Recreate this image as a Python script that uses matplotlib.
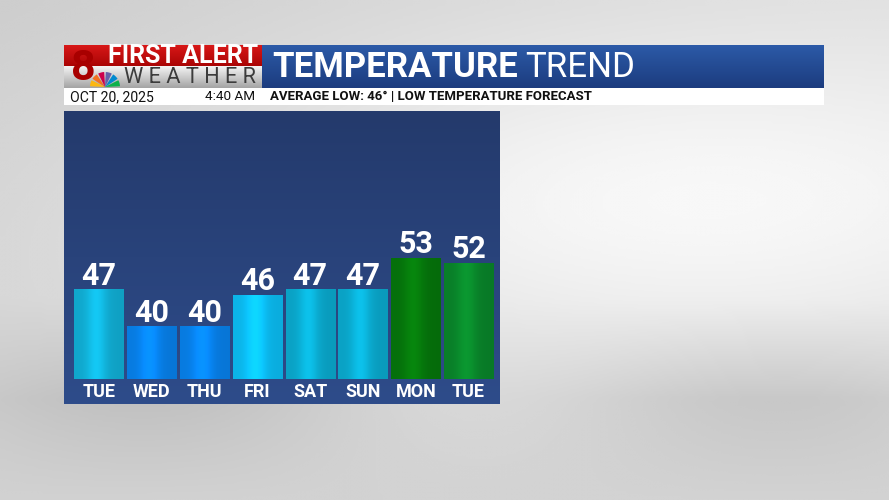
import numpy as np
import matplotlib.pyplot as plt
from matplotlib.patches import Rectangle, Wedge
from matplotlib.colors import to_rgb, LinearSegmentedColormap

# data
days = ['TUE', 'WED', 'THU', 'FRI', 'SAT', 'SUN', 'MON', 'TUE']
lows = [47, 40, 40, 46, 47, 47, 53, 52]
bar_colors = ['#12b6de', '#0886f4', '#0886f4', '#0cc4fc', '#0bb0d6', '#0bb0d6', '#067a0c', '#0a8a2c']
title_bold = 'TEMPERATURE'
title_thin = 'TREND'
date_txt = 'OCT 20, 2025'
time_txt = '4:40 AM'
sub_txt = 'AVERAGE LOW: 46° | LOW TEMPERATURE FORECAST'

W, H = 889, 500
SANS = ['Roboto', 'DejaVu Sans']
plt.rcParams['font.family'] = SANS

fig = plt.figure(figsize=(W / 100, H / 100), dpi=100)
renderer = fig.canvas.get_renderer()

# background: grey sky
bg = fig.add_axes([0, 0, 1, 1])
yy, xx = np.mgrid[0:1:200j, 0:1:356j]
sky = 0.86 + 0.12 * np.exp(-((xx - 0.75) ** 2 / 0.3 + (yy - 0.4) ** 2 / 0.12)) - 0.06 * (1 - xx) * (1 - yy)
sky -= 0.09 * np.clip(1 - np.abs(yy - 0.80) * 5, 0, 1) * (0.6 + 0.4 * np.sin(xx * 9))
sky -= 0.04 * yy ** 4
bg.imshow(np.clip(sky, 0, 1), cmap='gray', vmin=0, vmax=1, extent=[0, W, H, 0],
          origin='upper', aspect='auto', interpolation='bicubic')


def grad_rect(ax, x0, y0, w, h, c_top, c_bot):
    c1 = np.array(to_rgb(c_top))
    c2 = np.array(to_rgb(c_bot))
    t = np.linspace(0, 1, 50)[:, None]
    img = (c1 * (1 - t) + c2 * t)[:, None, :]
    ax.imshow(img, extent=[x0, x0 + w, y0 + h, y0], aspect='auto', zorder=2)


def fit_text(t, width):
    # scale the font so the text spans the given pixel width
    w = t.get_window_extent(renderer).width
    t.set_fontsize(t.get_fontsize() * width / w)


# header boxes
grad_rect(bg, 64, 45, 198, 21, '#d81818', '#aa0404')
grad_rect(bg, 64, 66, 198, 22, '#f4f4f4', '#a4a4a4')
grad_rect(bg, 262, 45, 562, 43, '#2c5aa8', '#1c3c7e')
bg.add_patch(Rectangle((64, 88), 760, 17, facecolor='white', zorder=2))
bg.set_xlim(0, W)
bg.set_ylim(H, 0)
bg.axis('off')

# logo: "8" and peacock
bg.text(83, 88.5, '8', fontsize=31, fontweight='bold', color='#a80000', ha='center',
        va='bottom', zorder=3)
peacock = ['#fcb711', '#f37021', '#cc004c', '#6460aa', '#0089d0', '#0db14b']
for k, c in enumerate(peacock):
    bg.add_patch(Wedge((105, 87), 15, 180 + k * 30 + 3, 180 + (k + 1) * 30 - 3,
                       facecolor=c, zorder=4))
fa = bg.text(108, 56, 'FIRST ALERT', fontsize=17, fontweight='bold', color='white',
             ha='left', va='center', zorder=3)
fit_text(fa, 150)
wt = bg.text(124, 77.5, 'W E A T H E R', fontsize=13.5, color='#3c3c3c', ha='left',
             va='center', zorder=3)
fit_text(wt, 132)

t1 = bg.text(272, 67.5, title_bold, fontsize=28, fontweight='bold', color='white',
             ha='left', va='center', zorder=3)
fit_text(t1, 245)
t2 = bg.text(525, 67.5, title_thin, fontsize=28, color='white',
             ha='left', va='center', zorder=3)
fit_text(t2, 110)

d1 = bg.text(70, 97, date_txt, fontsize=9.5, color='#111111', ha='left', va='center', zorder=3)
fit_text(d1, 84)
d2 = bg.text(255, 97, time_txt, fontsize=9.5, color='#111111', ha='right', va='center', zorder=3)
fit_text(d2, 50)
s1 = bg.text(270, 97, sub_txt, fontsize=9.5, fontweight='bold', color='#111111',
             ha='left', va='center', zorder=3)
fit_text(s1, 322)

# chart panel
ax = fig.add_axes([64 / W, 1 - 404 / H, 435 / W, 293 / H])
x = np.arange(len(days))
ymin, ymax = 25.3, 80.7
xl, xr = -0.663, 7.576
panel_cmap = LinearSegmentedColormap.from_list('pn', ['#243a6c', '#2e4c8a'])
ax.imshow(np.linspace(0, 1, 100)[:, None], cmap=panel_cmap,
          extent=[xl, xr, ymin, ymax], origin='upper', aspect='auto', zorder=0)

bars = ax.bar(x, np.array(lows) - 30, bottom=30, width=0.93, color=bar_colors, zorder=2,
              edgecolor='none')
# soft vertical shading inside each bar
u = np.linspace(0, 1, 60)
shade = 0.92 + 0.2 * np.exp(-((u - 0.45) / 0.2) ** 2) - 0.04 * u
for b, c in zip(bars, bar_colors):
    img = np.clip(np.array(to_rgb(c))[None, None, :] * shade[None, :, None], 0, 1)
    im = ax.imshow(img, extent=[b.get_x(), b.get_x() + b.get_width(), b.get_y(),
                                b.get_y() + b.get_height()], aspect='auto', zorder=3,
                   interpolation='bilinear')
    im.set_clip_path(b)

for i, v in enumerate(lows):
    ax.text(x[i], v - 0.3, str(v), fontsize=22, fontweight='bold', color='white',
            ha='center', va='bottom', zorder=4)
    ax.text(x[i], 27.6, days[i], fontsize=13, fontweight='bold', color='white',
            ha='center', va='center', zorder=4)

ax.set_xlim(xl, xr)
ax.set_ylim(ymin, ymax)
ax.axis('off')

fig.savefig('out.png', dpi=100)
